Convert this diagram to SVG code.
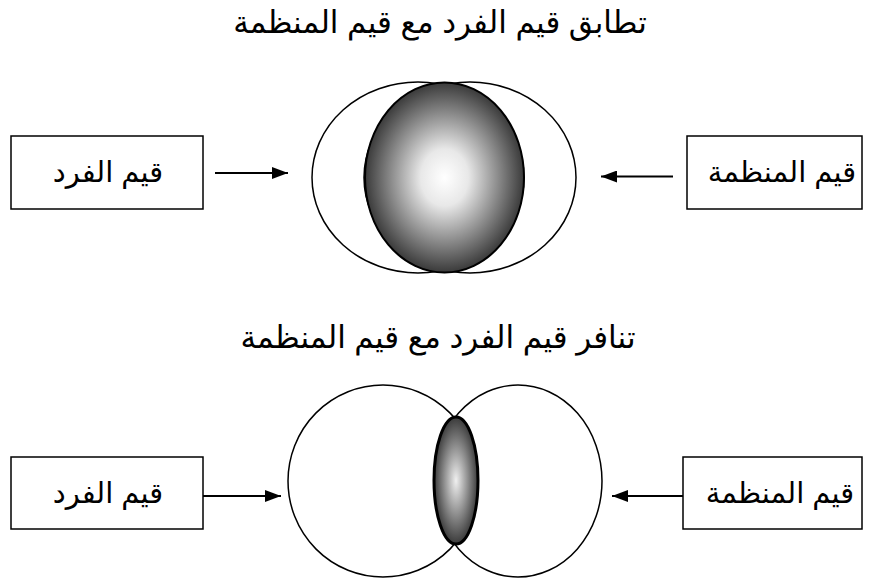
<svg xmlns="http://www.w3.org/2000/svg" width="872" height="580" viewBox="0 0 872 580">
<style>
.box{fill:#fff;stroke:#000;stroke-width:1.5}
.ring{fill:none;stroke:#000;stroke-width:1.5}
.lbl{font-family:"Liberation Sans","DejaVu Sans",sans-serif;font-size:29px;fill:#000;text-anchor:middle}
.ttl{font-family:"Liberation Sans","DejaVu Sans",sans-serif;font-size:31px;fill:#000;text-anchor:middle}
.arr{stroke:#000;stroke-width:2;fill:none;marker-end:url(#ah)}
</style>
<defs>
<marker id="ah" viewBox="0 0 16 12" refX="16" refY="6" markerWidth="16" markerHeight="12" markerUnits="userSpaceOnUse" orient="auto">
<path d="M0,0 L16,6 L0,12 Z" fill="#000"/>
</marker>
<radialGradient id="g1" cx="0.5" cy="0.5" r="0.5">
<stop offset="0" stop-color="#ffffff"/>
<stop offset="0.3" stop-color="#e8e8e8"/>
<stop offset="1" stop-color="#3a3a3a"/>
</radialGradient>
<radialGradient id="g2" cx="0.5" cy="0.5" r="0.5">
<stop offset="0" stop-color="#f0f0f0"/>
<stop offset="1" stop-color="#3a3a3a"/>
</radialGradient>
</defs>
<rect width="872" height="580" fill="#fff"/>
<g id="title-match"><text class="ttl" x="440" y="33">تطابق قيم الفرد مع قيم المنظمة</text></g>
<g id="title-conflict"><text class="ttl" x="438" y="348">تنافر قيم الفرد مع قيم المنظمة</text></g>

<g id="match-circles">
<ellipse class="ring" cx="418" cy="177.5" rx="106" ry="95.5"/>
<ellipse class="ring" cx="470" cy="177.5" rx="106" ry="95.5"/>
<ellipse cx="444.5" cy="177.5" rx="79.5" ry="95" fill="url(#g1)" stroke="#000" stroke-width="2"/>
</g>
<g id="conflict-circles">
<ellipse class="ring" cx="383" cy="481" rx="95" ry="96"/>
<ellipse class="ring" cx="518" cy="481" rx="84" ry="96"/>
<ellipse cx="456" cy="480.5" rx="22" ry="63.5" fill="url(#g2)" stroke="#000" stroke-width="3"/>
</g>

<g id="box-individual-top"><rect class="box" x="11" y="136" width="192" height="73"/><text class="lbl" x="108" y="182">قيم الفرد</text></g>
<g id="box-org-top"><rect class="box" x="687" y="136" width="175" height="73"/><text class="lbl" x="782" y="182">قيم المنظمة</text></g>
<g id="box-individual-bottom"><rect class="box" x="11" y="457" width="192" height="72"/><text class="lbl" x="108" y="503">قيم الفرد</text></g>
<g id="box-org-bottom"><rect class="box" x="683" y="457" width="179" height="72"/><text class="lbl" x="780" y="503">قيم المنظمة</text></g>

<g id="connectors">
<line class="arr" x1="215" y1="173" x2="288" y2="173"/>
<line class="arr" x1="673" y1="176.5" x2="601" y2="176.5"/>
<line class="arr" x1="203" y1="496" x2="281" y2="496"/>
<line class="arr" x1="683" y1="496" x2="612" y2="496"/>
</g>
</svg>
